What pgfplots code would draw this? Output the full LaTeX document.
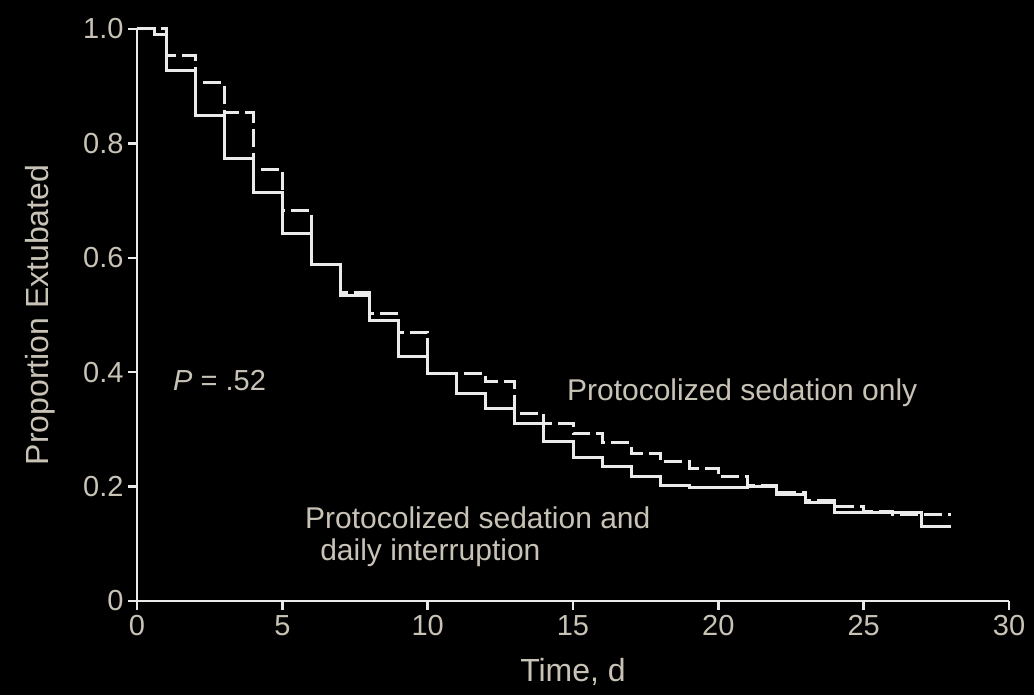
\documentclass[border=0pt]{standalone}
\usepackage{fontspec}
\setmainfont{Liberation Sans}
\usepackage{pgfplots}
\pgfplotsset{compat=1.18}
\definecolor{txt}{RGB}{200,195,182}
\definecolor{ln}{RGB}{235,235,235}
\begin{document}
\begin{tikzpicture}
\fill[black] (-137pt,-94pt) rectangle (897pt,601pt);
\useasboundingbox (-137pt,-94pt) rectangle (897pt,601pt);
\begin{axis}[
  at={(0pt,0pt)}, anchor=south west,
  scale only axis, width=872pt, height=572pt,
  xmin=0, xmax=30, ymin=0, ymax=1,
  clip=false,
  axis lines*=left,
  axis line style={ln, line width=2.5pt},
  tick style={ln, line width=2.5pt},
  tick align=outside,
  major tick length=9pt,
  xtick={0,5,10,15,20,25,30},
  xticklabels={0,5,10,15,20,25,30},
  ytick={0,0.2,0.4,0.6,0.8,1.0},
  yticklabels={0,0.2,0.4,0.6,0.8,1.0},
  /pgf/number format/assume math mode=true,
  tick label style={font=\fontsize{29}{33}\selectfont, text=txt},
  xticklabel style={anchor=north, yshift=-2pt},
  yticklabel style={anchor=east, xshift=-1pt},
  label style={font=\fontsize{32}{36}\selectfont, text=txt},
  xlabel={Time, d},
  ylabel={Proportion Extubated},
  xlabel style={at={(axis description cs:0.5,0)}, anchor=center, yshift=-71pt},
  ylabel style={at={(axis description cs:0,0.5)}, anchor=center, yshift=97pt},
]
% Protocolized sedation and daily interruption (solid)
\addplot[const plot, ln, line width=3pt] coordinates {
(0,1.0) (0.6,0.99) (1,0.927) (2,0.848) (3,0.773) (4,0.714) (5,0.642) (6,0.589)
(7,0.534) (8,0.490) (9,0.428) (10,0.397) (11,0.362) (12,0.336) (13,0.310)
(14,0.278) (15,0.250) (16,0.235) (17,0.218) (18,0.202) (19,0.198) (21,0.200)
(22,0.187) (23,0.172) (24,0.155) (27,0.130) (28,0.130)
};
% Protocolized sedation only (dashed)
\addplot[const plot, ln, line width=3pt, dash pattern=on 18pt off 6pt] coordinates {
(0,1.0) (1,0.953) (2,0.906) (3,0.854) (4,0.755) (5,0.682) (6,0.589)
(7,0.540) (8,0.502) (9,0.470) (10,0.397) (12,0.383) (13,0.327) (14,0.310)
(15,0.292) (16,0.277) (17,0.258) (18,0.243) (19,0.231) (20,0.217) (21,0.202)
(22,0.190) (23,0.175) (24,0.166) (25,0.157) (26,0.152) (28,0.152)
};
\node[anchor=west, inner sep=0pt, text=txt, font=\fontsize{29}{33}\selectfont] at (axis cs:1.24,0.386) {\textit{P} = .52};
\node[anchor=west, inner sep=0pt, text=txt, font=\fontsize{30}{34}\selectfont] at (axis cs:14.79,0.364) {Protocolized sedation only};
\node[anchor=west, inner sep=0pt, text=txt, font=\fontsize{30}{34}\selectfont] at (axis cs:5.78,0.145) {Protocolized sedation and};
\node[anchor=west, inner sep=0pt, text=txt, font=\fontsize{30}{34}\selectfont] at (axis cs:6.30,0.084) {daily interruption};
\end{axis}
\end{tikzpicture}
\end{document}
